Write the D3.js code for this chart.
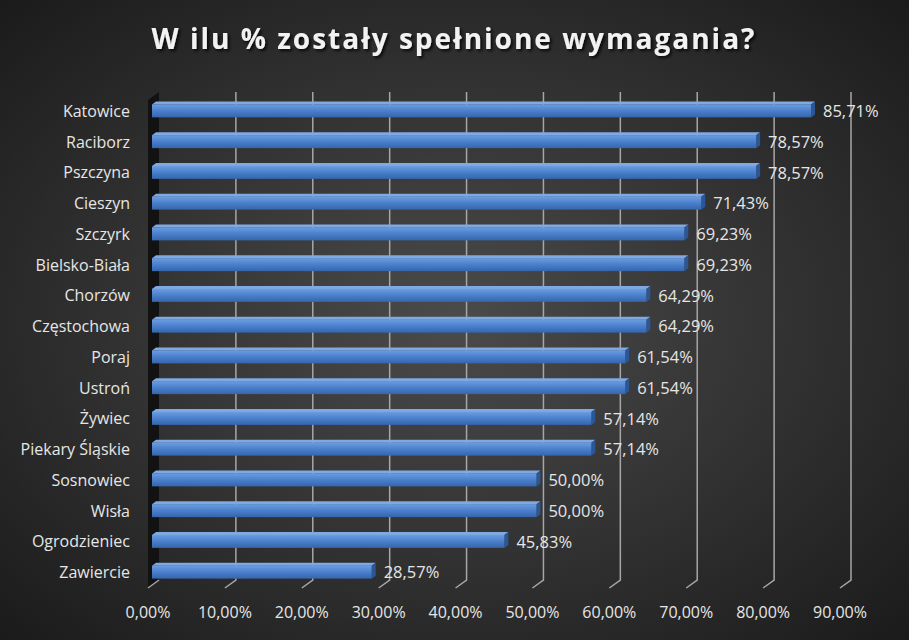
<!DOCTYPE html>
<html>
<head>
<meta charset="utf-8">
<script src="https://cdn.jsdelivr.net/npm/d3@7"></script>
<style>
  html, body { margin: 0; padding: 0; background: #2a2a2a; }
  svg { display: block; }
</style>
</head>
<body>
<div id="chart"></div>
<script>
// Data
var cities = ["Katowice", "Raciborz", "Pszczyna", "Cieszyn", "Szczyrk", "Bielsko-Biała",
  "Chorzów", "Częstochowa", "Poraj", "Ustroń", "Żywiec", "Piekary Śląskie",
  "Sosnowiec", "Wisła", "Ogrodzieniec", "Zawiercie"];
var percents = [85.71, 78.57, 78.57, 71.43, 69.23, 69.23, 64.29, 64.29, 61.54, 61.54,
  57.14, 57.14, 50.00, 50.00, 45.83, 28.57];
var tickValues = [0, 10, 20, 30, 40, 50, 60, 70, 80, 90];

var width = 909, height = 640;
var depthX = 11, depthY = -8; // 3D floor offset (front -> back)

var svg = d3.select("#chart").append("svg")
  .attr("width", width)
  .attr("height", height);

var defs = svg.append("defs");

// Background radial gradient
var bg = defs.append("radialGradient").attr("id", "bg")
  .attr("cx", "50%").attr("cy", "50%").attr("r", "70%");
bg.append("stop").attr("offset", "0%").attr("stop-color", "#4b4b4b");
bg.append("stop").attr("offset", "100%").attr("stop-color", "#1b1b1b");

var barGrad = defs.append("linearGradient").attr("id", "barFront")
  .attr("x1", 0).attr("y1", 0).attr("x2", 0).attr("y2", 1);
barGrad.append("stop").attr("offset", "0%").attr("stop-color", "#6b9de0");
barGrad.append("stop").attr("offset", "50%").attr("stop-color", "#4a7fcb");
barGrad.append("stop").attr("offset", "100%").attr("stop-color", "#3566ad");

var shadow = defs.append("filter").attr("id", "shadow")
  .attr("x", "-10%").attr("y", "-30%").attr("width", "120%").attr("height", "160%");
shadow.append("feDropShadow").attr("dx", 2).attr("dy", 2).attr("stdDeviation", 1.5)
  .attr("flood-color", "#000").attr("flood-opacity", 0.8);

svg.append("rect")
  .attr("width", width).attr("height", height)
  .attr("fill", "url(#bg)");

// Scales (x is measured on the back plane)
var x = d3.scaleLinear().domain([0, 90]).range([159, 851]);
var y = d3.scalePoint().domain(cities).range([94, 586]).padding(0.5);

var plotTop = 92, plotBottom = 580;

// Left wall
svg.append("polygon")
  .attr("points", [
    [x(0) - depthX, plotTop - depthY],
    [x(0), plotTop],
    [x(0), plotBottom],
    [x(0) - depthX, plotBottom - depthY]
  ].join(" "))
  .attr("fill", "#121212");

// Gridlines with slanted floor ticks
var grid = svg.append("g");
grid.selectAll("path")
  .data(tickValues.slice(1)).enter()
  .append("path")
  .attr("d", function (d) {
    return "M" + x(d) + "," + plotTop +
      "V" + plotBottom +
      "L" + (x(d) - depthX) + "," + (plotBottom - depthY);
  })
  .attr("fill", "none")
  .attr("stroke", "#a6a6a6")
  .attr("stroke-width", 1.5);

// floor edge of the zero line
svg.append("path")
  .attr("d", "M" + x(0) + "," + plotBottom + "L" + (x(0) - depthX) + "," + (plotBottom - depthY))
  .attr("stroke", "#a6a6a6").attr("stroke-width", 1.5);

// Bars
var shift = -7, faceH = 13, topOff = 4;
var bars = svg.selectAll(".bar")
  .data(percents).enter()
  .append("g")
  .attr("class", "bar");

// top face
bars.append("polygon")
  .attr("points", function (d, i) {
    var cy = y(cities[i]) - 5;
    var x0 = x(0) + shift, x1 = x(d) + shift;
    return [[x0, cy], [x0 + topOff, cy - 3], [x1 + topOff, cy - 3], [x1, cy]].join(" ");
  })
  .attr("fill", "#7ea9e2");

// end cap
bars.append("polygon")
  .attr("points", function (d, i) {
    var cy = y(cities[i]) - 5;
    var x1 = x(d) + shift;
    return [[x1, cy], [x1 + topOff, cy - 3], [x1 + topOff, cy - 3 + faceH], [x1, cy + faceH]].join(" ");
  })
  .attr("fill", "#2c5796");

// front face
bars.append("rect")
  .attr("x", x(0) + shift)
  .attr("y", function (d, i) { return y(cities[i]) - 5; })
  .attr("width", function (d) { return x(d) - x(0); })
  .attr("height", faceH)
  .attr("fill", "url(#barFront)");

// Data labels
var fmt = function (v) { return v.toFixed(2).replace(".", ",") + "%"; };
svg.selectAll(".val")
  .data(percents).enter()
  .append("text")
  .attr("class", "val")
  .attr("x", function (d) { return x(d) + shift + 12; })
  .attr("y", function (d, i) { return y(cities[i]) + 2; })
  .attr("dy", "0.35em")
  .style("font-family", "'Open Sans', sans-serif")
  .style("font-size", "16.5px")
  .style("fill", "#e6e6e6")
  .text(fmt);

// Category labels
svg.selectAll(".cat")
  .data(cities).enter()
  .append("text")
  .attr("class", "cat")
  .attr("x", 130)
  .attr("y", function (d) { return y(d) + 2; })
  .attr("dy", "0.35em")
  .style("text-anchor", "end")
  .style("font-family", "'Open Sans', sans-serif")
  .style("font-size", "16px")
  .style("fill", "#e6e6e6")
  .text(function (d) { return d; });

// X tick labels
svg.selectAll(".tick")
  .data(tickValues).enter()
  .append("text")
  .attr("class", "tick")
  .attr("x", function (d) { return x(d) - depthX; })
  .attr("y", 612)
  .attr("dy", "0.35em")
  .style("text-anchor", "middle")
  .style("font-family", "'Open Sans', sans-serif")
  .style("font-size", "16px")
  .style("fill", "#e6e6e6")
  .text(fmt);

// Title
svg.append("text")
  .attr("x", 454)
  .attr("y", 39)
  .attr("dy", "0.35em")
  .style("text-anchor", "middle")
  .style("font-family", "'Open Sans', sans-serif")
  .style("font-weight", "bold")
  .style("font-size", "28px")
  .style("letter-spacing", "2px")
  .style("fill", "#f2f2f2")
  .attr("filter", "url(#shadow)")
  .text("W ilu % zostały spełnione wymagania?");
</script>
</body>
</html>
